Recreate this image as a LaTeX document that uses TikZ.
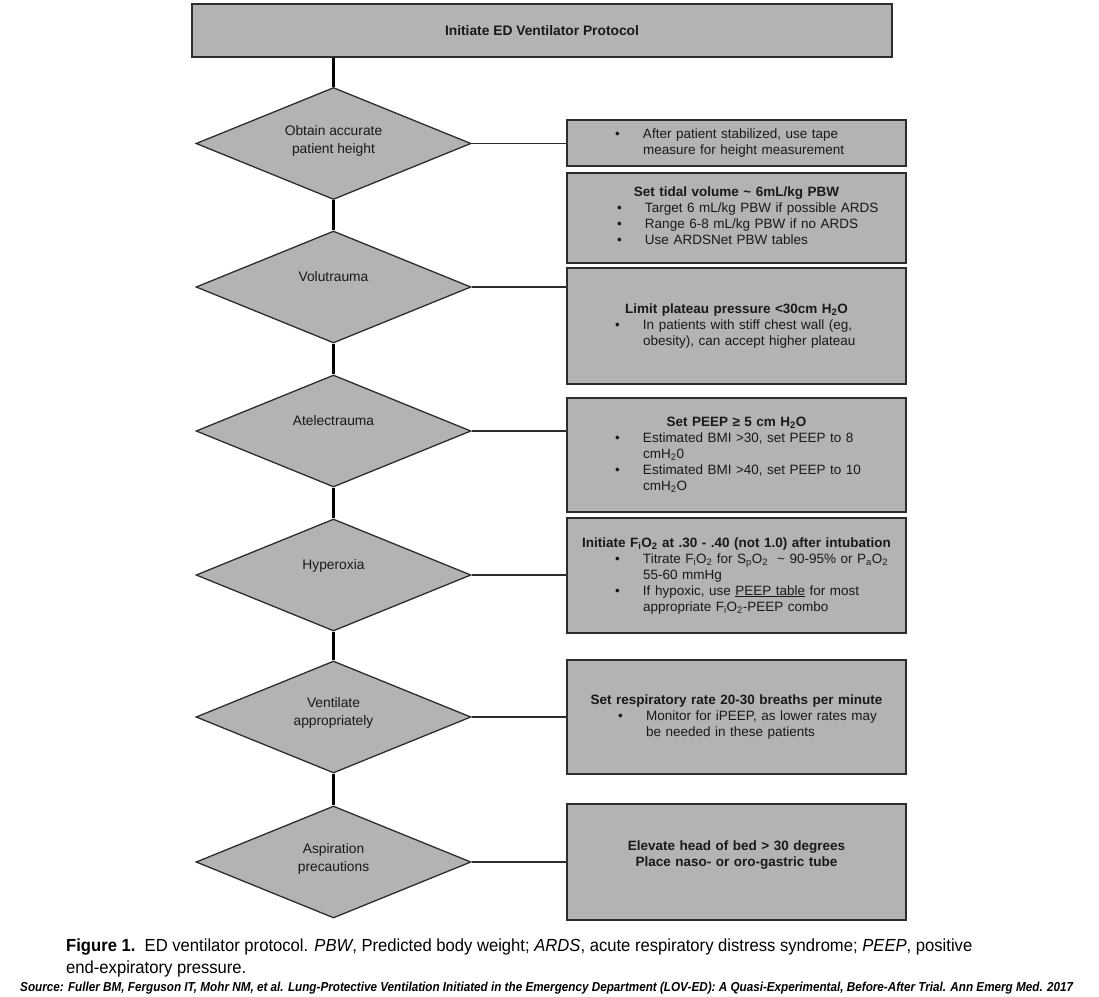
\documentclass[tikz,border=0pt]{standalone}
\usepackage{fontspec}
\setmainfont{Liberation Sans}
\newfontfamily\capfont[FakeStretch=0.95]{Liberation Sans}
\newfontfamily\srcfont[FakeStretch=0.9]{Liberation Sans}
\usetikzlibrary{shapes.geometric}
\definecolor{boxfill}{RGB}{179,179,179}
\definecolor{edgecol}{RGB}{45,45,45}
\definecolor{txtcol}{RGB}{25,25,25}
\newcommand{\bul}{\noindent\llap{\makebox[28pt][l]{\textbullet}}}
\newcommand{\sub}[1]{\textsubscript{#1}}
\begin{document}
\begin{tikzpicture}[x=1pt,y=-1pt,
  dia/.style={diamond, draw=edgecol, line width=1.3pt, fill=boxfill, minimum width=275pt, minimum height=112pt, inner sep=0pt},
  dtext/.style={align=center, font=\fontsize{13.8}{18}\selectfont, text=txtcol, inner sep=0pt},
  rbox/.style={rectangle, draw=edgecol, line width=1.3pt, fill=boxfill, minimum width=339pt, inner xsep=0pt, inner ysep=0pt, text width=339pt, align=left, font=\fontsize{13.5}{16}\selectfont, text=txtcol},
  flow/.style={line width=3pt, black},
  link/.style={line width=1.1pt, edgecol}
]
\useasboundingbox (0,0) rectangle (1099,996);

% top box
\node[rectangle, draw=edgecol, line width=1.3pt, fill=boxfill, minimum width=700pt, minimum height=53pt, font=\fontsize{13.8}{16}\selectfont\bfseries, text=txtcol] (top) at (542,30.5) {Initiate ED Ventilator Protocol};

% diamonds
\node[dia] (d1) at (333.5,143.5) {};
\node[dia] (d2) at (333.5,287) {};
\node[dia] (d3) at (333.5,431) {};
\node[dia] (d4) at (333.5,575) {};
\node[dia] (d5) at (333.5,717) {};
\node[dia] (d6) at (333.5,862) {};

\node[dtext] (d1t) at ([yshift=3pt]d1.center) {Obtain accurate\\patient height};
\node[dtext] (d2t) at ([yshift=10pt]d2.center) {Volutrauma};
\node[dtext] (d3t) at ([yshift=10pt]d3.center) {Atelectrauma};
\node[dtext] (d4t) at ([yshift=9pt]d4.center) {Hyperoxia};
\node[dtext] (d5t) at ([yshift=4pt]d5.center) {Ventilate\\appropriately};
\node[dtext] (d6t) at ([yshift=3pt]d6.center) {Aspiration\\precautions};

% right boxes
\node[rbox, minimum height=46pt] (b1) at (736.5,143) {\leftskip=76pt
\bul After patient stabilized, use tape\\measure for height measurement\par};

\node[rbox, minimum height=90pt] (b2) at (736.5,218) {{\centering\bfseries Set tidal volume \textasciitilde{} 6mL/kg PBW\par}
\leftskip=78pt
\bul Target 6 mL/kg PBW if possible ARDS\par
\bul Range 6-8 mL/kg PBW if no ARDS\par
\bul Use ARDSNet PBW tables\par\vspace*{4pt}};

\node[rbox, minimum height=116pt] (b3) at (736.5,326) {{\centering\bfseries Limit plateau pressure <30cm H\sub{2}O\par}
\leftskip=76pt
\bul In patients with stiff chest wall (eg,\\obesity), can accept higher plateau\par};

\node[rbox, minimum height=114pt] (b4) at (736.5,455) {{\centering\bfseries Set PEEP ≥ 5 cm H\sub{2}O\par}
\leftskip=76pt
\bul Estimated BMI >30, set PEEP to 8\\cmH\sub{2}0\par
\bul Estimated BMI >40, set PEEP to 10\\cmH\sub{2}O\par};

\node[rbox, minimum height=115pt] (b5) at (736.5,575.5) {{\centering\bfseries Initiate F\sub{i}O\sub{2} at .30 - .40 (not 1.0) after intubation\par}
\leftskip=76pt
\bul Titrate F\sub{i}O\sub{2} for S\sub{p}O\sub{2} \ \textasciitilde{} 90-95\% or P\sub{a}O\sub{2}\\55-60 mmHg\par
\bul If hypoxic, use \underline{PEEP table} for most\\appropriate F\sub{i}O\sub{2}-PEEP combo\par};

\node[rbox, minimum height=114pt] (b6) at (736.5,717) {{\centering\bfseries Set respiratory rate 20-30 breaths per minute\par}
\leftskip=79pt
\bul Monitor for iPEEP, as lower rates may\\be needed in these patients\par};

\node[rbox, minimum height=116pt] (b7) at (736.5,862) {{\centering\bfseries Elevate head of bed > 30 degrees\\Place naso- or oro-gastric tube\par}\vspace*{13pt}};

% vertical flow
\draw[flow] (d1.north |- top.south) -- (d1.north);
\draw[flow] (d1.south) -- (d2.north);
\draw[flow] (d2.south) -- (d3.north);
\draw[flow] (d3.south) -- (d4.north);
\draw[flow] (d4.south) -- (d5.north);
\draw[flow] (d5.south) -- (d6.north);

% horizontal links
\draw[link] (d1.east) -- (d1.east -| b1.west);
\draw[link] (d2.east) -- (d2.east -| b3.west);
\draw[link] (d3.east) -- (d3.east -| b4.west);
\draw[link] (d4.east) -- (d4.east -| b5.west);
\draw[link] (d5.east) -- (d5.east -| b6.west);
\draw[link] (d6.east) -- (d6.east -| b7.west);

% caption
\node[anchor=base west, inner sep=0pt, font=\capfont\fontsize{17.5}{20}\selectfont] (cap1) at (66,951) {\textbf{Figure 1.}\ \ ED ventilator protocol. \textit{PBW}, Predicted body weight; \textit{ARDS}, acute respiratory distress syndrome; \textit{PEEP}, positive};
\node[anchor=base west, inner sep=0pt, font=\capfont\fontsize{17.5}{20}\selectfont] (cap2) at (66,973) {end-expiratory pressure.};
\node[anchor=base west, inner sep=0pt, font=\srcfont\fontsize{13}{15}\selectfont\bfseries\itshape] (src) at (20,991) {Source: Fuller BM, Ferguson IT, Mohr NM, et al. Lung-Protective Ventilation Initiated in the Emergency Department (LOV-ED): A Quasi-Experimental, Before-After Trial. Ann Emerg Med. 2017};
\end{tikzpicture}
\end{document}
